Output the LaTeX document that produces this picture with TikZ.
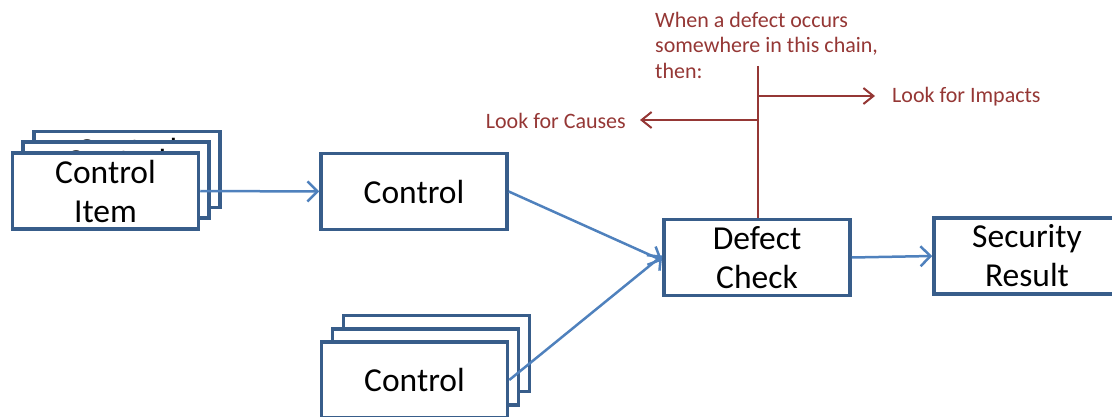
\documentclass[tikz,border=0pt]{standalone}
\usepackage{fontspec}
\setmainfont{Carlito}
\usetikzlibrary{arrows.meta}
\definecolor{boxblue}{HTML}{385D8A}
\definecolor{arrblue}{HTML}{4F81BD}
\definecolor{darkred}{HTML}{953735}
\begin{document}
\begin{tikzpicture}[x=1pt,y=-1pt,
  box/.style={draw=boxblue, line width=3.5pt, fill=white, minimum width=186pt, minimum height=76pt,
    inner sep=0pt, align=center, font=\fontsize{33.5}{39}\selectfont},
  flow/.style={draw=arrblue, line width=2.5pt, -{Straight Barb[length=10pt,width=20pt,line width=2.5pt]}},
  redline/.style={draw=darkred, line width=2pt},
  redarrow/.style={redline, -{Straight Barb[length=10pt,width=16pt,line width=2pt]}},
  redtext/.style={text=darkred, font=\fontsize{22}{25.5}\selectfont, inner sep=0pt}]
\useasboundingbox (0,0) rectangle (1112,417);
% top-left stack
\node[box] (tl3) at (127,169.5) {Control\\Item};
\node[box] (tl2) at (116,180) {Control\\Item};
\node[box] (tl1) at (105.5,191) {Control\\Item};
% middle control
\node[box] (ctl) at (414,191.5) {Control};
% bottom stack
\node[box] (bt3) at (436.5,353.5) {Control};
\node[box] (bt2) at (425.5,367) {Control};
\node[box] (bt1) at (414.5,380) {Control};
% defect check and result
\node[box] (dc) at (757,257.5) {Defect\\Check};
\node[box] (sr) at (1027,256) {Security\\Result};
% blue connectors
\draw[flow] (tl1.east) -- (ctl.west);
\draw[flow] (ctl.east) -- ([yshift=-3pt]dc.west);
\draw[flow] (bt1.east) -- ([yshift=2pt]dc.west);
\draw[flow] (dc.east) -- (sr.west);
% red annotation
\coordinate (vtop) at (758,66);
\coordinate (rsplit) at (758,96);
\coordinate (lsplit) at (758,120);
\draw[redline] (vtop) -- (vtop |- dc.north);
\node[redtext, anchor=west] (imp) at (892,97) {Look for Impacts};
\node[redtext, anchor=east] (cau) at (626,121) {Look for Causes};
\draw[redarrow] (rsplit) -- ([xshift=-17pt]imp.west |- rsplit);
\draw[redarrow] (lsplit) -- ([xshift=14pt]cau.east |- lsplit);
\node[redtext, anchor=north west, align=left] (note) at (655,12)
  {When a defect occurs\\somewhere in this chain,\\then:};
\end{tikzpicture}
\end{document}
